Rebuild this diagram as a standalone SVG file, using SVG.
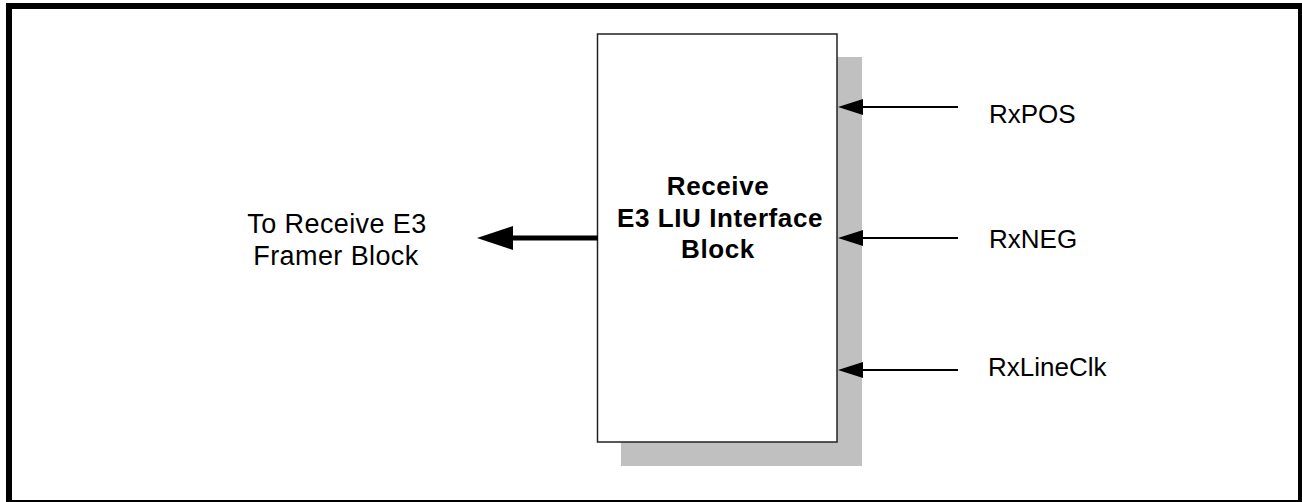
<svg xmlns="http://www.w3.org/2000/svg" width="1302" height="502" viewBox="0 0 1302 502">
<style>
.lbl{font-family:"Liberation Sans",Arial,sans-serif;font-size:26px;fill:#000}
.bold{font-weight:bold;letter-spacing:0.6px}
.thin{stroke:#000;stroke-width:2;fill:none}
</style>
<rect x="0" y="0" width="1302" height="502" fill="#fff"/>
<rect id="frame" x="9" y="6" width="1292" height="497" fill="none" stroke="#000" stroke-width="6"/>
<g id="liu-block">
<rect x="621" y="57" width="241" height="409" fill="#c0c0c0"/>
<rect x="597.5" y="34" width="239.5" height="408" fill="#fff" stroke="#222" stroke-width="1.5"/>
<text class="lbl bold" text-anchor="middle" x="718" y="195">Receive</text>
<text class="lbl bold" text-anchor="middle" x="720" y="227">E3 LIU Interface</text>
<text class="lbl bold" text-anchor="middle" x="718" y="258">Block</text>
</g>
<g id="framer-label">
<text class="lbl" text-anchor="middle" x="337" y="233" style="font-size:27px;letter-spacing:0.4px">To Receive E3</text>
<text class="lbl" text-anchor="middle" x="336" y="265" style="font-size:27px;letter-spacing:0.4px">Framer Block</text>
</g>
<g id="rxpos"><text class="lbl" x="989" y="123">RxPOS</text></g>
<g id="rxneg"><text class="lbl" x="989" y="248">RxNEG</text></g>
<g id="rxlineclk"><text class="lbl" x="988" y="376">RxLineClk</text></g>
<g id="connectors">
<line x1="598" y1="238" x2="510" y2="238" stroke="#000" stroke-width="5"/>
<polygon points="477,238 513,226 513,250" fill="#000"/>
<line class="thin" x1="958" y1="107" x2="860" y2="107"/>
<polygon points="838,107 863,99 863,115" fill="#000"/>
<line class="thin" x1="958" y1="238" x2="860" y2="238"/>
<polygon points="838,238 863,230 863,246" fill="#000"/>
<line class="thin" x1="958" y1="370" x2="860" y2="370"/>
<polygon points="838,370 863,362 863,378" fill="#000"/>
</g>
</svg>
